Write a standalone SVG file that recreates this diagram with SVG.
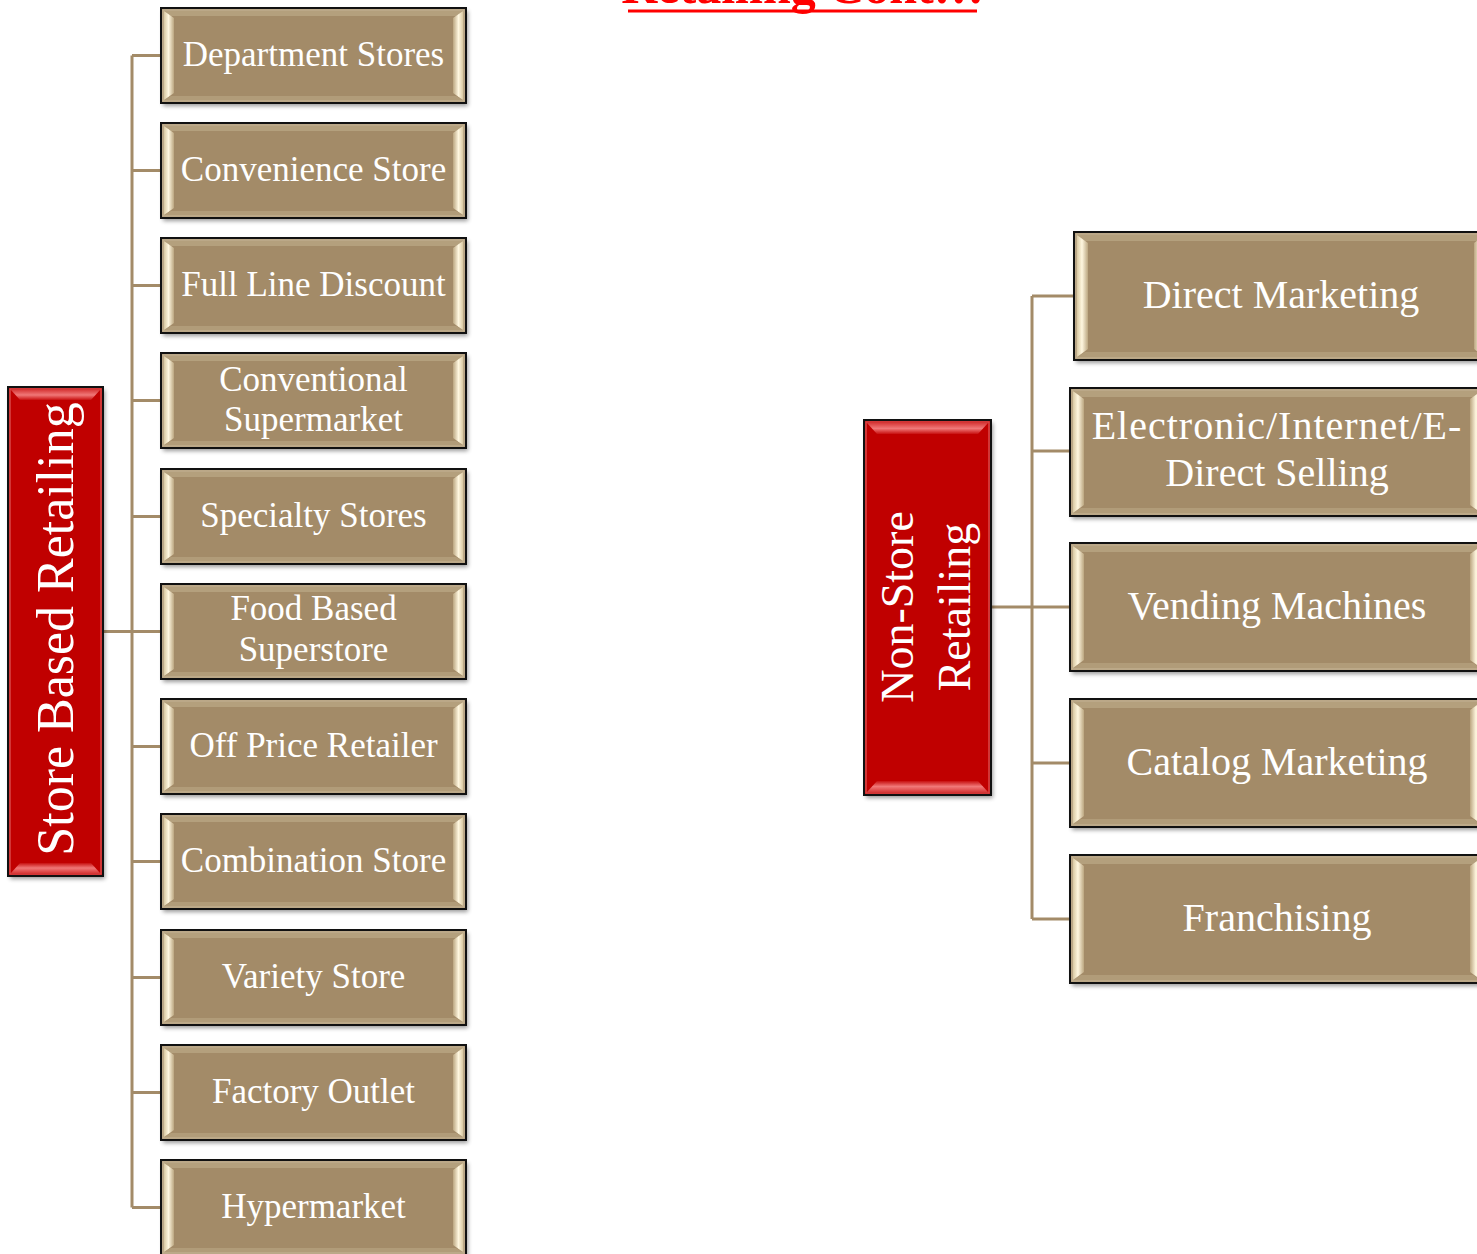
<svg xmlns="http://www.w3.org/2000/svg" xmlns:xlink="http://www.w3.org/1999/xlink" width="1477" height="1254" viewBox="0 0 1477 1254">
<style>
.lbl{font-family:"Liberation Serif","Times New Roman",serif;fill:#ffffff;text-anchor:middle}
.ls{font-size:35px}
.rs{font-size:40px}
.conn{stroke:#A38B68;stroke-width:3;fill:none}
.title{font-family:"Liberation Serif","Times New Roman",serif;font-weight:bold;font-size:50px;fill:#ff0000;text-anchor:middle}
</style>
<defs>
<filter id="sh" x="-10%" y="-10%" width="120%" height="130%"><feGaussianBlur stdDeviation="2"/></filter>
<linearGradient id="bevL" x1="0" y1="0" x2="1" y2="0">
<stop offset="0" stop-color="#D9C9A2"/><stop offset="0.45" stop-color="#FFF7E0"/><stop offset="1" stop-color="#BBA680"/>
</linearGradient>
<linearGradient id="bevR" x1="1" y1="0" x2="0" y2="0">
<stop offset="0" stop-color="#D9C9A2"/><stop offset="0.45" stop-color="#FFF7E0"/><stop offset="1" stop-color="#BBA680"/>
</linearGradient>
<linearGradient id="redT" x1="0" y1="0" x2="0" y2="1">
<stop offset="0" stop-color="#D83A3A"/><stop offset="0.5" stop-color="#F07878"/><stop offset="1" stop-color="#C81010"/>
</linearGradient>
<linearGradient id="redB" x1="0" y1="1" x2="0" y2="0">
<stop offset="0" stop-color="#D83A3A"/><stop offset="0.5" stop-color="#F07878"/><stop offset="1" stop-color="#C81010"/>
</linearGradient>
<g id="boxL">
<rect x="2" y="3" width="305" height="95" fill="#000" opacity="0.4" filter="url(#sh)"/>
<rect x="0" y="0" width="305" height="95" fill="#A38B68" stroke="#111" stroke-width="2"/>
<rect x="2" y="2" width="301" height="91" fill="none" stroke="#C4B393" stroke-width="1.5"/>
<polygon points="3,3 302,3 295,8 10,8" fill="#B4A07D"/>
<polygon points="3,92 302,92 295,88 10,88" fill="#B19C79"/>
<polygon points="3,3 13,10 13,85 3,92" fill="url(#bevL)"/>
<polygon points="302,3 292,10 292,85 302,92" fill="url(#bevR)"/>
</g>
<g id="boxR">
<rect x="2" y="3" width="414" height="128" fill="#000" opacity="0.4" filter="url(#sh)"/>
<rect x="0" y="0" width="414" height="128" fill="#A38B68" stroke="#111" stroke-width="2"/>
<rect x="2" y="2" width="410" height="124" fill="none" stroke="#C4B393" stroke-width="1.5"/>
<polygon points="3,3 411,3 403,9 11,9" fill="#B4A07D"/>
<polygon points="3,125 411,125 403,120 11,120" fill="#B19C79"/>
<polygon points="3,3 14,11 14,117 3,125" fill="url(#bevL)"/>
<polygon points="411,3 400,11 400,117 411,125" fill="url(#bevR)"/>
</g>
</defs>
<rect width="1477" height="1254" fill="#ffffff"/>

<g id="title">
<text class="title" x="802.5" y="3">Retailing Cont…</text>
<rect x="628" y="9.5" width="349" height="3" fill="#ff0000"/>
</g>

<g id="connectors">
<line class="conn" x1="132" y1="55.5" x2="132" y2="1207.5"/>
<line class="conn" x1="103" y1="631.5" x2="161" y2="631.5"/>
<line class="conn" x1="132" y1="55.5" x2="161" y2="55.5"/>
<line class="conn" x1="132" y1="170.5" x2="161" y2="170.5"/>
<line class="conn" x1="132" y1="285.5" x2="161" y2="285.5"/>
<line class="conn" x1="132" y1="400.5" x2="161" y2="400.5"/>
<line class="conn" x1="132" y1="516.5" x2="161" y2="516.5"/>
<line class="conn" x1="132" y1="746.5" x2="161" y2="746.5"/>
<line class="conn" x1="132" y1="861.5" x2="161" y2="861.5"/>
<line class="conn" x1="132" y1="977.5" x2="161" y2="977.5"/>
<line class="conn" x1="132" y1="1092.5" x2="161" y2="1092.5"/>
<line class="conn" x1="132" y1="1207.5" x2="161" y2="1207.5"/>
<line class="conn" x1="1032" y1="296" x2="1032" y2="919"/>
<line class="conn" x1="991" y1="607" x2="1070" y2="607"/>
<line class="conn" x1="1032" y1="296" x2="1074" y2="296"/>
<line class="conn" x1="1032" y1="451" x2="1070" y2="451"/>
<line class="conn" x1="1032" y1="763" x2="1070" y2="763"/>
<line class="conn" x1="1032" y1="919" x2="1070" y2="919"/>
</g>

<g id="store-based">
<rect x="10" y="390" width="95" height="489" fill="#000" opacity="0.4" filter="url(#sh)"/>
<rect x="8" y="387" width="95" height="489" fill="#C00000" stroke="#111" stroke-width="2"/>
<rect x="10" y="389" width="91" height="485" fill="none" stroke="#D84848" stroke-width="1.5"/>
<polygon points="11,390 100,390 91,400 20,400" fill="url(#redT)"/>
<polygon points="11,873 100,873 91,863 20,863" fill="url(#redB)"/>
<text class="lbl" font-size="52" transform="translate(73,629) rotate(-90)">Store Based Retailing</text>
</g>

<g id="non-store">
<rect x="866" y="423" width="127" height="375" fill="#000" opacity="0.4" filter="url(#sh)"/>
<rect x="864" y="420" width="127" height="375" fill="#C00000" stroke="#111" stroke-width="2"/>
<rect x="866" y="422" width="123" height="371" fill="none" stroke="#D84848" stroke-width="1.5"/>
<polygon points="867,423 988,423 978,434 877,434" fill="url(#redT)"/>
<polygon points="867,792 988,792 978,781 877,781" fill="url(#redB)"/>
<text class="lbl" font-size="46" transform="translate(913,607) rotate(-90)">Non-Store</text>
<text class="lbl" font-size="46" transform="translate(970,607) rotate(-90)">Retailing</text>
</g>

<g id="department-stores" transform="translate(161,8)"><use href="#boxL"/><text class="lbl ls" x="152.5" y="58">Department Stores</text></g>
<g id="convenience-store" transform="translate(161,123)"><use href="#boxL"/><text class="lbl ls" x="152.5" y="58">Convenience Store</text></g>
<g id="full-line-discount" transform="translate(161,238)"><use href="#boxL"/><text class="lbl ls" x="152.5" y="58">Full Line Discount</text></g>
<g id="conventional-supermarket" transform="translate(161,353)"><use href="#boxL"/><text class="lbl ls" x="152.5" y="38">Conventional</text><text class="lbl ls" x="152.5" y="78">Supermarket</text></g>
<g id="specialty-stores" transform="translate(161,469)"><use href="#boxL"/><text class="lbl ls" x="152.5" y="58">Specialty Stores</text></g>
<g id="food-based-superstore" transform="translate(161,584)"><use href="#boxL"/><text class="lbl ls" x="152.5" y="36">Food Based</text><text class="lbl ls" x="152.5" y="77">Superstore</text></g>
<g id="off-price-retailer" transform="translate(161,699)"><use href="#boxL"/><text class="lbl ls" x="152.5" y="58">Off Price Retailer</text></g>
<g id="combination-store" transform="translate(161,814)"><use href="#boxL"/><text class="lbl ls" x="152.5" y="58">Combination Store</text></g>
<g id="variety-store" transform="translate(161,930)"><use href="#boxL"/><text class="lbl ls" x="152.5" y="58">Variety Store</text></g>
<g id="factory-outlet" transform="translate(161,1045)"><use href="#boxL"/><text class="lbl ls" x="152.5" y="58">Factory Outlet</text></g>
<g id="hypermarket" transform="translate(161,1160)"><use href="#boxL"/><text class="lbl ls" x="152.5" y="58">Hypermarket</text></g>

<g id="direct-marketing" transform="translate(1074,232)"><use href="#boxR"/><text class="lbl rs" x="207" y="76">Direct Marketing</text></g>
<g id="electronic-direct-selling" transform="translate(1070,388)"><use href="#boxR"/><text class="lbl rs" x="207" y="51" letter-spacing="1">Electronic/Internet/E-</text><text class="lbl rs" x="207" y="98">Direct Selling</text></g>
<g id="vending-machines" transform="translate(1070,543)"><use href="#boxR"/><text class="lbl rs" x="207" y="76">Vending Machines</text></g>
<g id="catalog-marketing" transform="translate(1070,699)"><use href="#boxR"/><text class="lbl rs" x="207" y="76">Catalog Marketing</text></g>
<g id="franchising" transform="translate(1070,855)"><use href="#boxR"/><text class="lbl rs" x="207" y="76">Franchising</text></g>
</svg>
